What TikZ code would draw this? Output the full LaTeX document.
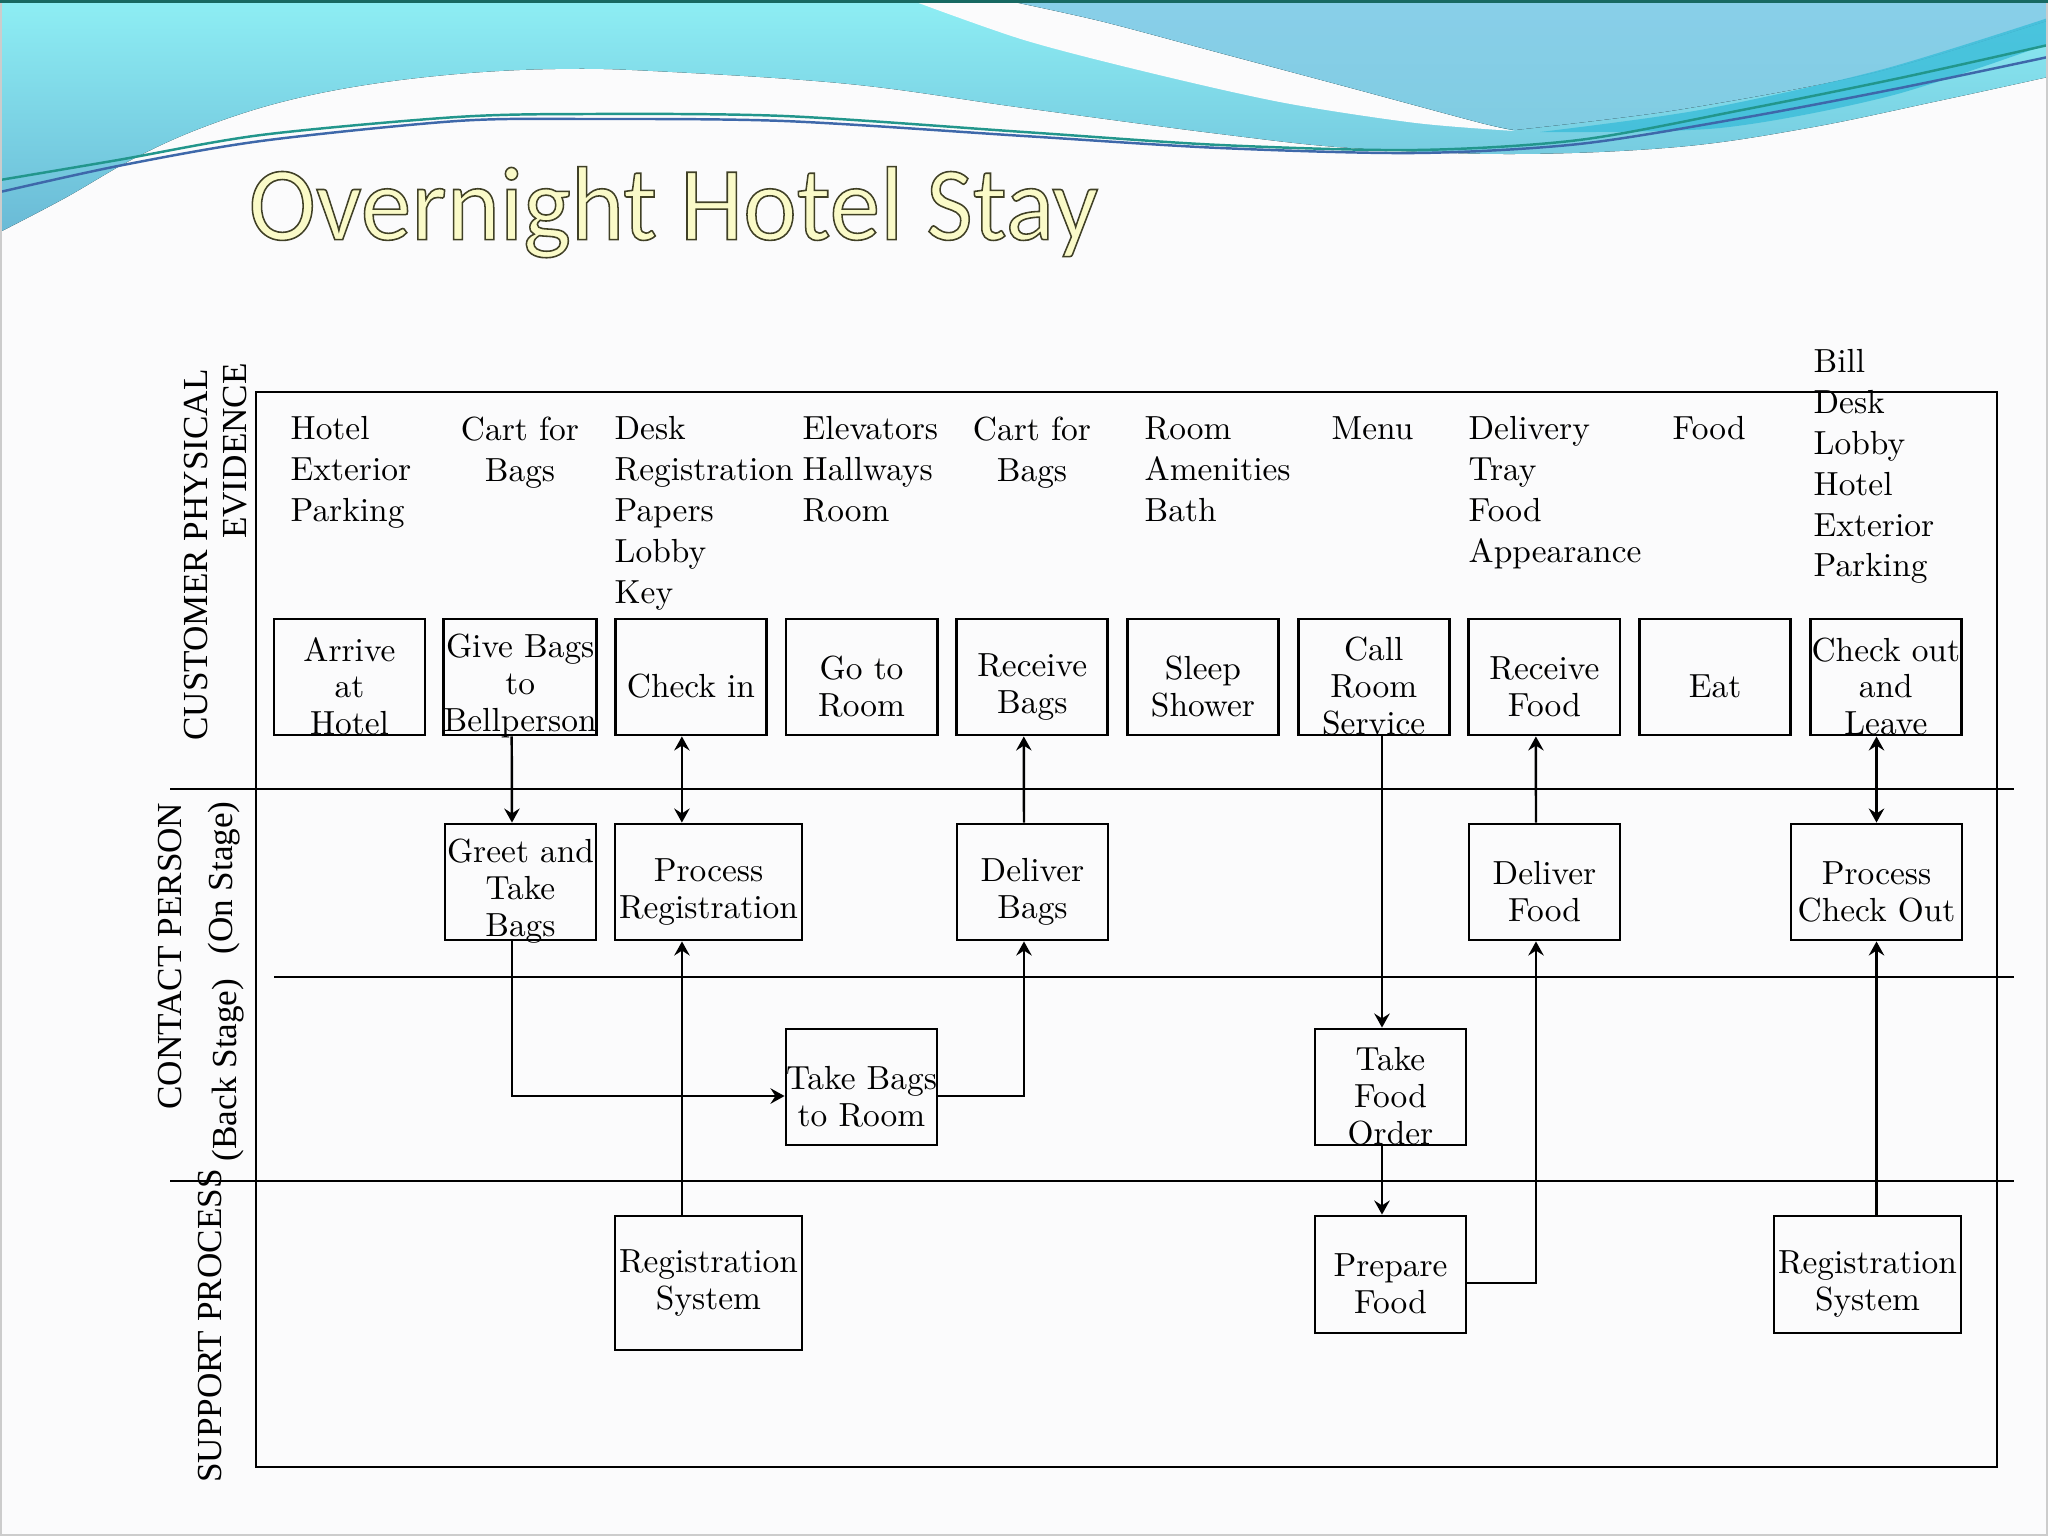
\documentclass[tikz,border=0pt]{standalone}
\usepackage{fontspec}
\usetikzlibrary{arrows.meta}
\newfontfamily\lanefont{Liberation Serif}
\newfontfamily\titlefont{Carlito}
\definecolor{waveaqua}{RGB}{142,238,244}
\definecolor{wavedeep}{RGB}{106,186,214}
\definecolor{waveblue}{RGB}{137,207,233}
\definecolor{waveblue2}{RGB}{128,204,226}
\definecolor{ribbon}{RGB}{62,190,218}
\definecolor{threada}{RGB}{34,150,140}
\definecolor{threadb}{RGB}{62,104,170}
\definecolor{titlecream}{RGB}{250,250,200}
\definecolor{slidebg}{RGB}{251,251,252}
\newcommand{\slidetitle}{\resizebox*{8.49cm}{0.91cm}{\titlefont\fontsize{30}{32}\selectfont
  \special{pdf:literal direct 2 Tr 0.45 w 0.25 0.25 0.15 RG}Overnight Hotel Stay\special{pdf:literal direct 0 Tr}}}
\newcommand{\tstrut}{\rule{0pt}{12pt}}
\tikzset{
  act/.style={draw, line width=0.8pt, minimum width=1.51cm, minimum height=1.16cm,
    inner xsep=0pt, inner ysep=-4pt, align=center, font=\fontsize{9.5}{10.5}\selectfont},
  evid/.style={inner sep=0pt, anchor=north west, align=left, font=\fontsize{9.5}{11.6}\selectfont},
  lane/.style={inner sep=0pt, rotate=90, font=\lanefont\fontsize{10}{12}\selectfont},
  lanerule/.style={line width=0.7pt},
  flow/.style={line width=0.7pt, -{Stealth[length=4pt,width=4.4pt,inset=1.4pt]}},
  flow2/.style={line width=0.7pt, {Stealth[length=4pt,width=4.4pt,inset=1.4pt]}-{Stealth[length=4pt,width=4.4pt,inset=1.4pt]}},
}

\begin{document}
\begin{tikzpicture}[x=0.01cm, y=-0.01cm]
  \useasboundingbox (0,0) rectangle (2048,1536);
  \fill[slidebg] (0,0) rectangle (2048,1536);

  % header waves
  \fill[top color=waveaqua, bottom color=wavedeep] (0,0) -- (2048,0) -- plot[smooth, tension=0.6] coordinates {(2048,77) (1938,101) (1808,128) (1677,147) (1514,154) (1351,148) (1220,134) (1024,108) (849,84) (653,71) (555,69) (457,74) (359,86) (274,104) (196,130) (131,160) (65,198) (0,232)} -- cycle;
  \fill[slidebg] plot[smooth] coordinates {(905,-2) (1024,40) (1155,74) (1285,103) (1416,123) (1515,131)} -- plot[smooth] coordinates {(1515,131) (1481,123) (1351,88) (1220,53) (1100,21) (995,-2)} -- cycle;
  \fill[top color=waveblue, bottom color=waveblue2] (995,-2) -- (2050,-2) -- plot[smooth] coordinates {(2050,20) (1873,73) (1677,110) (1515,130)} -- plot[smooth] coordinates {(1515,130) (1481,123) (1351,88) (1220,53) (1100,21) (995,-2)} -- cycle;
  \fill[ribbon, opacity=0.85] plot[smooth] coordinates {(1540,132) (1700,110) (1880,70) (2048,18)} -- plot[smooth] coordinates {(2048,44) (1890,96) (1720,128) (1540,132)} -- cycle;
  \draw[threada, line width=0.7pt] plot[smooth] coordinates {(0,180) (118,160) (261,135) (457,117) (588,114) (784,116) (1024,132) (1220,145) (1416,150) (1579,140) (1742,110) (1900,78) (2048,45)};
  \draw[threadb, line width=0.7pt] plot[smooth] coordinates {(0,192) (118,166) (261,141) (457,121) (588,119) (784,121) (1024,136) (1220,148) (1416,153) (1579,144) (1742,118) (1900,88) (2048,57)};
  \draw[gray!40, line width=0.6pt] (1,1) rectangle (2047,1535);
  \draw[threada!70!black, line width=1pt] (0,1) -- (2048,1);

  % title
  \node[anchor=north west, inner sep=0pt, text=titlecream] (title) at (248,166) {\slidetitle};

  % lanes
  \draw[lanerule] (256,392) rectangle (1997,1467);
  \draw[lanerule] (170,789) -- (2014,789);
  \draw[lanerule] (274,977) -- (2014,977);
  \draw[lanerule] (170,1181) -- (2014,1181);

  \node[lane] (custlbl) at (196,555) {CUSTOMER PHYSICAL};
  \node[lane] (evidlbl) at (235,451) {EVIDENCE};
  \node[lane] (contlbl) at (170,956) {CONTACT PERSON};
  \node[lane] (onlbl) at (224,878) {(On Stage)};
  \node[lane] (backlbl) at (228,1070) {(Back Stage)};
  \node[lane] (supplbl) at (210,1326) {SUPPORT PROCESS};

  % physical evidence
  \node[evid] (ev1) at (290,416) {Hotel\\Exterior\\Parking};
  \node[evid, anchor=north, align=center] (ev2) at (520,416) {Cart for\\Bags};
  \node[evid] (ev3) at (614,416) {Desk\\Registration\\Papers\\Lobby\\Key};
  \node[evid] (ev4) at (802,416) {Elevators\\Hallways\\Room};
  \node[evid, anchor=north, align=center] (ev5) at (1032,416) {Cart for\\Bags};
  \node[evid] (ev6) at (1144,416) {Room\\Amenities\\Bath};
  \node[evid] (ev7) at (1331,416) {Menu};
  \node[evid] (ev8) at (1468,416) {Delivery\\Tray\\Food\\Appearance};
  \node[evid] (ev9) at (1672,416) {Food};
  \node[evid] (ev10) at (1813,349) {Bill\\Desk\\Lobby\\Hotel\\Exterior\\Parking};

  % customer actions
  \node[act] (arrive) at (349.5,677) {\tstrut Arrive\\at\\Hotel};
  \node[act] (give) at (520.2,677) {\tstrut Give Bags\\to\\Bellperson};
  \node[act] (checkin) at (690.9,677) {\tstrut Check in};
  \node[act] (goroom) at (861.6,677) {\tstrut Go to\\Room};
  \node[act] (recvbags) at (1032.3,677) {\tstrut Receive\\Bags};
  \node[act] (sleep) at (1203,677) {\tstrut Sleep\\Shower};
  \node[act] (call) at (1373.7,677) {\tstrut Call\\Room\\Service};
  \node[act] (recvfood) at (1544.4,677) {\tstrut Receive\\Food};
  \node[act] (eat) at (1715.1,677) {\tstrut Eat};
  \node[act] (checkout) at (1885.8,677) {\tstrut Check out\\and\\Leave};

  % on stage
  \node[act] (greet) at (520.5,882) {\tstrut Greet and\\Take\\Bags};
  \node[act, minimum width=1.87cm] (procreg) at (708.5,882) {\tstrut Process\\Registration};
  \node[act] (delbags) at (1032.5,882) {\tstrut Deliver\\Bags};
  \node[act] (delfood) at (1544.5,882) {\tstrut Deliver\\Food};
  \node[act, minimum width=1.71cm] (proccheck) at (1876.5,882) {\tstrut Process\\Check Out};

  % back stage
  \node[act] (takebags) at (861.5,1087) {\tstrut Take Bags\\to Room};
  \node[act] (takeorder) at (1390.5,1087) {\tstrut Take\\Food\\Order};

  % support
  \node[act, minimum width=1.87cm, minimum height=1.34cm] (regsys1) at (708.5,1283) {Registration\\System};
  \node[act, minimum height=1.17cm] (prepfood) at (1390.5,1274.5) {\tstrut Prepare\\Food};
  \node[act, minimum width=1.87cm, minimum height=1.17cm] (regsys2) at (1867.5,1274.5) {\tstrut Registration\\System};

  % flows
  \draw[flow] ([xshift=-0.085cm]give.south) -- ([xshift=-0.085cm]greet.north);
  \draw[flow2] ([xshift=-0.09cm]checkin.south) -- ([xshift=-0.09cm]checkin.south |- procreg.north);
  \draw[flow] ([xshift=-0.085cm]greet.south) |- ([yshift=-0.09cm]takebags.west);
  \draw[flow] ([xshift=-0.265cm]regsys1.north) -- ([xshift=-0.265cm]procreg.south);
  \draw[flow] ([yshift=-0.09cm]takebags.east) -| ([xshift=-0.085cm]delbags.south);
  \draw[flow] ([xshift=-0.085cm]delbags.north) -- ([xshift=-0.085cm]recvbags.south);
  \draw[flow] ([xshift=-0.085cm]takeorder.north |- call.south) -- ([xshift=-0.085cm]takeorder.north);
  \draw[flow] ([xshift=-0.085cm]takeorder.south) -- ([xshift=-0.085cm]prepfood.north);
  \draw[flow] ([yshift=-0.085cm]prepfood.east) -| ([xshift=-0.085cm]delfood.south);
  \draw[flow] ([xshift=-0.085cm]delfood.north) -- ([xshift=-0.085cm]recvfood.south);
  \draw[flow2] (proccheck.north |- checkout.south) -- (proccheck.north);
  \draw[flow] (proccheck.south |- regsys2.north) -- (proccheck.south);
\end{tikzpicture}
\end{document}
